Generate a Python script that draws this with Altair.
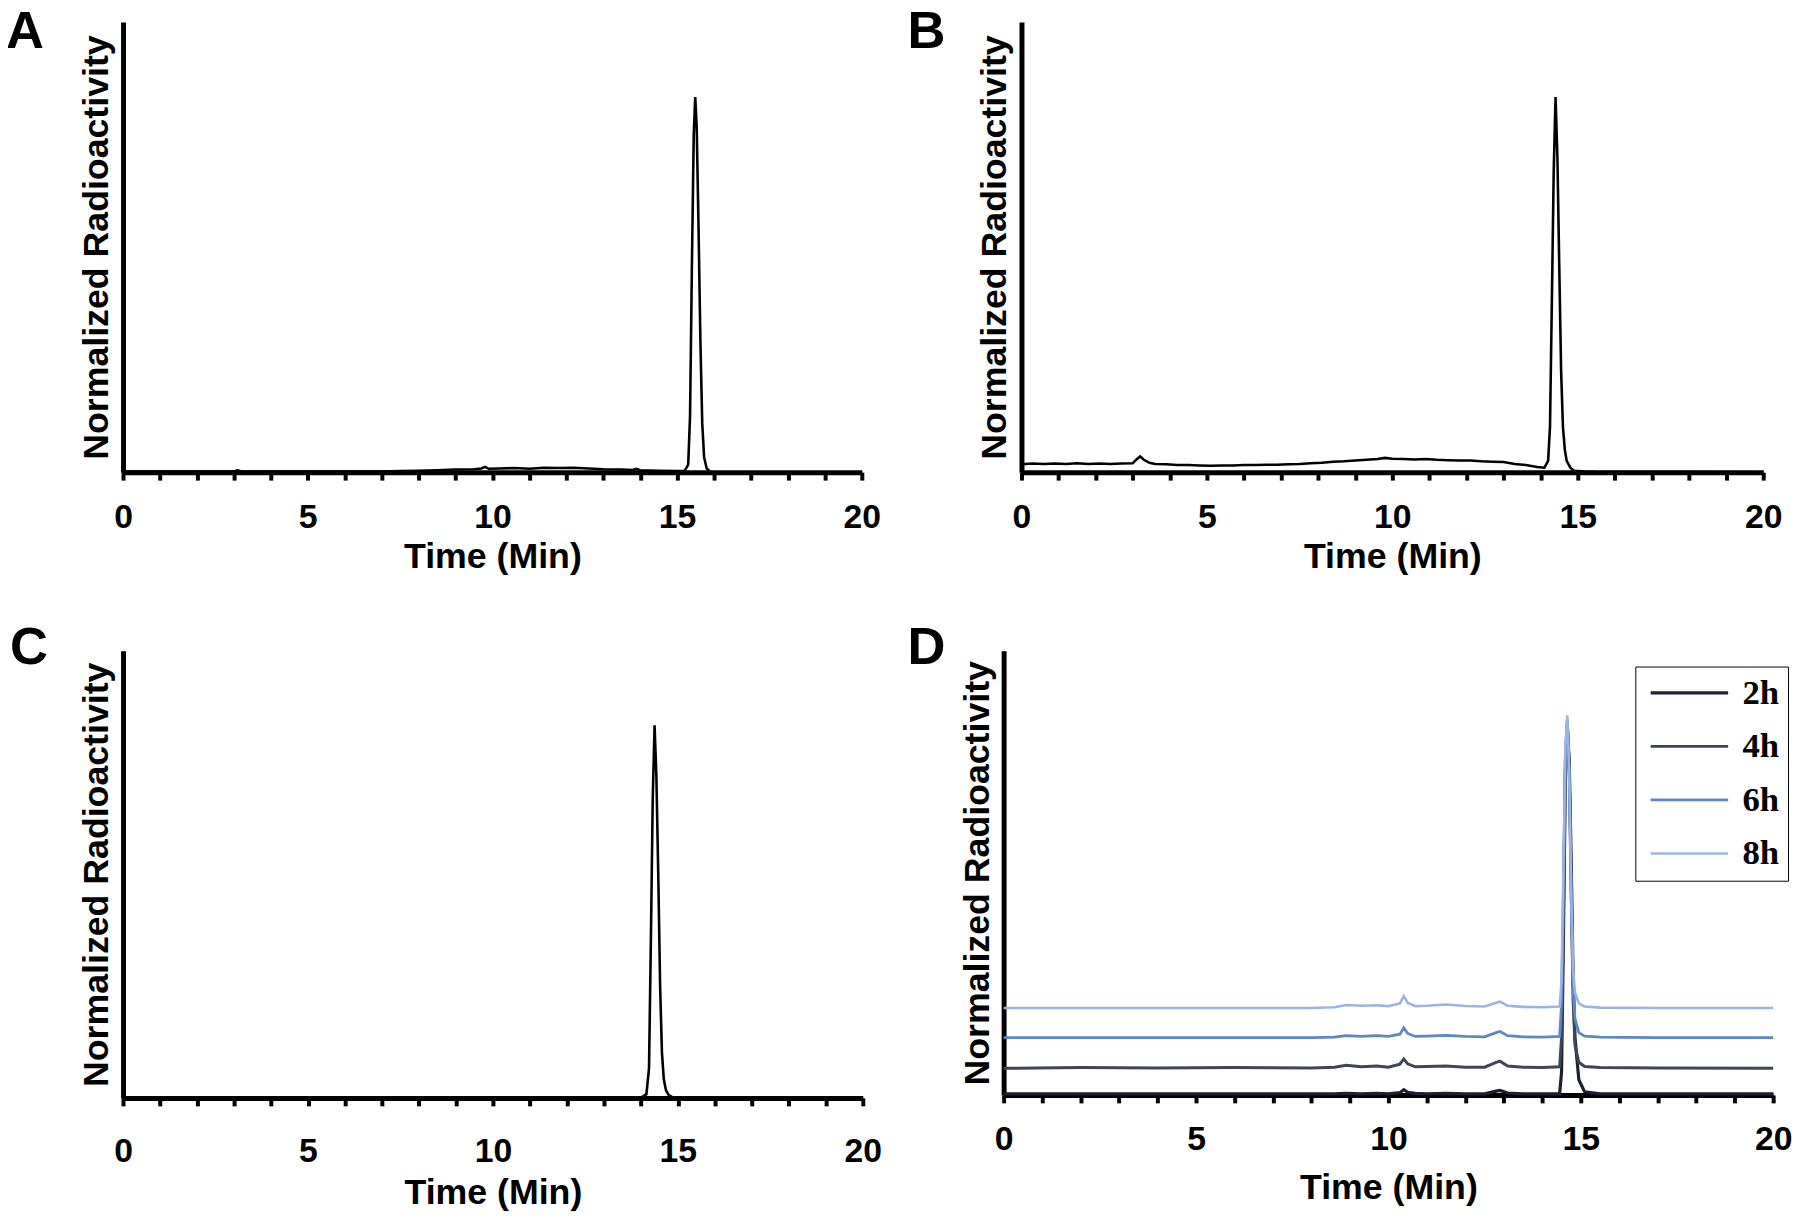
import altair as alt
import pandas as pd

# ---------------- data ----------------
A_time = [0, 1, 2, 3, 3.1, 3.2, 4, 5, 6, 7, 7.5, 8, 8.5, 9, 9.5, 9.7, 9.8, 9.9,
          10.2, 10.6, 11, 11.4, 11.8, 12.2, 12.6, 13, 13.5, 13.8, 13.9, 14, 14.5,
          15, 15.2, 15.3, 15.35, 15.4, 15.45, 15.49, 15.53, 15.58, 15.63, 15.68,
          15.73, 15.8, 15.9, 16.5, 20]
A_val = [0.002, 0.002, 0.002, 0.002, 0.005, 0.002, 0.002, 0.002, 0.002, 0.002,
         0.003, 0.004, 0.005, 0.007, 0.008, 0.010, 0.014, 0.009, 0.010, 0.011,
         0.009, 0.012, 0.011, 0.012, 0.010, 0.008, 0.007, 0.006, 0.009, 0.005,
         0.004, 0.003, 0.003, 0.02, 0.15, 0.55, 0.90, 1.0, 0.92, 0.65, 0.35, 0.13,
         0.04, 0.01, 0.0, 0.0, 0.0]

B_time = [0, 0.3, 0.6, 0.9, 1.2, 1.5, 1.8, 2.1, 2.4, 2.7, 3.0, 3.1, 3.2, 3.3,
          3.45, 3.6, 3.9, 4.2, 4.5, 4.8, 5.1, 5.4, 5.7, 6.0, 6.3, 6.6, 6.9, 7.2,
          7.5, 7.8, 8.1, 8.4, 8.7, 9.0, 9.3, 9.6, 9.8, 10.0, 10.3, 10.6, 10.9,
          11.2, 11.5, 11.8, 12.1, 12.4, 12.7, 13.0, 13.3, 13.6, 13.9, 14.1, 14.2,
          14.25, 14.3, 14.35, 14.4, 14.45, 14.5, 14.55, 14.6, 14.65, 14.7, 14.8,
          14.9, 15.2, 15.5, 20]
B_val = [0.021, 0.023, 0.022, 0.023, 0.022, 0.024, 0.022, 0.023, 0.022, 0.023,
         0.024, 0.034, 0.042, 0.033, 0.025, 0.022, 0.021, 0.019, 0.019, 0.018,
         0.017, 0.018, 0.018, 0.019, 0.019, 0.020, 0.020, 0.021, 0.022, 0.024,
         0.025, 0.028, 0.029, 0.031, 0.033, 0.035, 0.038, 0.036, 0.035, 0.034,
         0.035, 0.033, 0.032, 0.031, 0.031, 0.029, 0.028, 0.027, 0.022, 0.019,
         0.014, 0.012, 0.03, 0.12, 0.45, 0.80, 1.0, 0.84, 0.55, 0.27, 0.12, 0.06,
         0.03, 0.012, 0.004, 0.002, 0.001, 0.0]

C_time = [0, 5, 10, 14.0, 14.15, 14.22, 14.27, 14.32, 14.37, 14.42, 14.47, 14.52,
          14.57, 14.62, 14.68, 14.75, 14.85, 15, 20]
C_val = [0, 0, 0, 0.0, 0.01, 0.08, 0.42, 0.80, 1.0, 0.86, 0.60, 0.30, 0.12, 0.05,
         0.02, 0.008, 0.002, 0, 0]

D_time = [0, 2, 4, 6, 8, 8.6, 8.9, 9.3, 9.7, 10.0, 10.3, 10.4, 10.5, 10.7, 11.0,
          11.5, 12.0, 12.5, 12.8, 12.9, 13.1, 13.5, 14.0, 14.45, 14.5, 14.55, 14.6,
          14.65, 14.7, 14.75, 14.8, 14.85, 14.95, 15.1, 15.5, 17, 20]
D_2h = [0.003, 0.003, 0.003, 0.003, 0.003, 0.003, 0.004, 0.003, 0.004, 0.003,
        0.006, 0.014, 0.007, 0.004, 0.003, 0.004, 0.003, 0.003, 0.010, 0.012,
        0.005, 0.003, 0.003, 0.003, 0.06, 0.42, 0.85, 0.97, 0.88, 0.62, 0.32,
        0.15, 0.04, 0.008, 0.003, 0.003, 0.003]
D_4h = [0.070, 0.072, 0.071, 0.072, 0.071, 0.073, 0.078, 0.074, 0.076, 0.073,
        0.081, 0.095, 0.082, 0.074, 0.075, 0.076, 0.073, 0.073, 0.086, 0.089,
        0.076, 0.073, 0.072, 0.074, 0.15, 0.48, 0.88, 0.98, 0.86, 0.55, 0.25,
        0.13, 0.086, 0.075, 0.072, 0.071, 0.070]
D_6h = [0.151, 0.151, 0.151, 0.151, 0.151, 0.152, 0.156, 0.154, 0.156, 0.154,
        0.160, 0.177, 0.162, 0.154, 0.155, 0.157, 0.154, 0.153, 0.164, 0.167,
        0.156, 0.153, 0.152, 0.154, 0.24, 0.55, 0.90, 0.99, 0.84, 0.52, 0.28,
        0.20, 0.164, 0.155, 0.152, 0.151, 0.151]
D_8h = [0.229, 0.229, 0.229, 0.229, 0.229, 0.231, 0.237, 0.235, 0.236, 0.234,
        0.241, 0.260, 0.243, 0.234, 0.235, 0.238, 0.234, 0.233, 0.243, 0.246,
        0.235, 0.232, 0.231, 0.233, 0.30, 0.60, 0.92, 1.0, 0.85, 0.55, 0.33,
        0.27, 0.241, 0.233, 0.230, 0.229, 0.229]

D_series = ["2h", "4h", "6h", "8h"]
D_colors = ["#1b2030", "#3c4657", "#5d86cc", "#9cb5e0"]
D_widths = [3.2, 2.6, 2.6, 2.6]

x_ticks = list(range(0, 21))

# ---------------- helpers ----------------
FONT = "Liberation Sans"


def x_axis(label_pad, title_pad):
    return alt.Axis(
        values=x_ticks,
        labelExpr="datum.value % 5 === 0 ? datum.label : ''",
        title="Time (Min)",
        grid=False,
        domainColor="black", domainWidth=5,
        tickColor="black", tickWidth=4, tickSize=8,
        labelFont=FONT, labelFontSize=34, labelFontWeight="bold",
        labelColor="black", labelPadding=label_pad,
        labelFlush=False, labelOverlap=False, labelBound=False,
        titleFont=FONT, titleFontSize=36, titleFontWeight="bold",
        titleColor="black", titlePadding=title_pad,
    )


def y_axis(title_pad):
    return alt.Axis(
        title="Normalized Radioactivity",
        labels=False, ticks=False, grid=False,
        domainColor="black", domainWidth=5,
        titleFont=FONT, titleFontSize=36, titleFontWeight="bold",
        titleColor="black", titlePadding=title_pad,
    )


def letter(text, dx, dy):
    return alt.Chart(pd.DataFrame({"k": [text]})).mark_text(
        align="left", baseline="top", font=FONT, fontSize=53,
        fontWeight="bold", color="black"
    ).encode(text="k:N", x=alt.value(dx), y=alt.value(dy))


def single_panel(times, vals, name, width, height, ymax, dx, dy, label_pad, title_pad):
    assert len(times) == len(vals)
    df = pd.DataFrame({"t": times, "v": vals})
    line = alt.Chart(df).mark_line(color="black", strokeWidth=2.6).encode(
        x=alt.X("t:Q", scale=alt.Scale(domain=[0, 20], nice=False, zero=False),
                axis=x_axis(label_pad, title_pad)),
        y=alt.Y("v:Q", scale=alt.Scale(domain=[0, ymax], nice=False),
                axis=y_axis(8)),
        order="t:Q",
    )
    return alt.layer(line, letter(name, dx, dy)).properties(
        width=width, height=height,
        view=alt.ViewBackground(strokeOpacity=0, strokeWidth=0),
    )


pA = single_panel(A_time, A_val, "A", 745, 454, 1.2, -118, -16, 21, 5)
pB = single_panel(B_time, B_val, "B", 748, 454, 1.2, -115, -16, 21, 5)
pC = single_panel(C_time, C_val, "C", 746, 451, 1.2, -114, -29, 29, 7)

rows = []
for s, vals in zip(D_series, [D_2h, D_4h, D_6h, D_8h]):
    assert len(vals) == len(D_time)
    for t, v in zip(D_time, vals):
        rows.append({"t": t, "v": v, "series": s})
dfD = pd.DataFrame(rows)

lineD = alt.Chart(dfD).mark_line().encode(
    x=alt.X("t:Q", scale=alt.Scale(domain=[0, 20], nice=False, zero=False),
            axis=x_axis(20, 14)),
    y=alt.Y("v:Q", scale=alt.Scale(domain=[0, 1.17], nice=False), axis=y_axis(7)),
    color=alt.Color(
        "series:N",
        scale=alt.Scale(domain=D_series, range=D_colors),
        legend=alt.Legend(
            title=None, orient="none", legendX=1525, legendY=650,
            symbolType="M-1,0H6.1", symbolSize=484, symbolStrokeWidth=3,
            labelFont="Liberation Serif", labelFontWeight="bold",
            labelFontSize=35, labelColor="black", labelOffset=64,
            strokeColor="black", fillColor="white", padding=9,
            rowPadding=18,
        ),
    ),
    strokeWidth=alt.StrokeWidth(
        "series:N", scale=alt.Scale(domain=D_series, range=D_widths), legend=None
    ),
    order="t:Q",
)
pD = alt.layer(lineD, letter("D", -97, -29)).properties(
    width=776, height=448,
    view=alt.ViewBackground(strokeOpacity=0, strokeWidth=0),
)

row1 = alt.hconcat(pA, pB, spacing=27)
row2 = alt.hconcat(pC, pD, spacing=26)
chart = alt.vconcat(row1, row2, spacing=48).properties(
    padding={"left": -2, "top": -7, "right": 0, "bottom": 0}
).configure_view(strokeWidth=0, strokeOpacity=0).configure_legend(
    strokeWidth=2.5
).configure(background="white")

chart.save("out.html", embed_options={"renderer": "svg", "actions": False})
